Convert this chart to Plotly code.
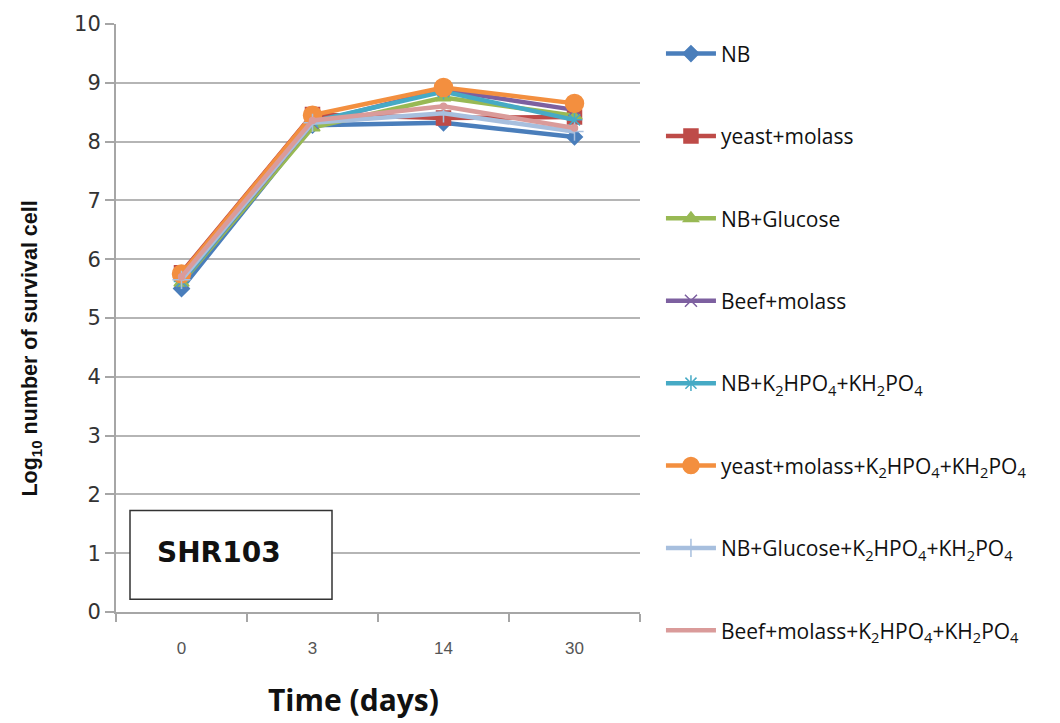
import plotly.graph_objects as go

days = ["0", "3", "14", "30"]
names = [
    "NB",
    "yeast+molass",
    "NB+Glucose",
    "Beef+molass",
    "NB+K<sub>2</sub>HPO<sub>4</sub>+KH<sub>2</sub>PO<sub>4</sub>",
    "yeast+molass+K<sub>2</sub>HPO<sub>4</sub>+KH<sub>2</sub>PO<sub>4</sub>",
    "NB+Glucose+K<sub>2</sub>HPO<sub>4</sub>+KH<sub>2</sub>PO<sub>4</sub>",
    "Beef+molass+K<sub>2</sub>HPO<sub>4</sub>+KH<sub>2</sub>PO<sub>4</sub>",
]
nb = [5.50, 8.28, 8.32, 8.08]
yeast_molass = [5.77, 8.46, 8.40, 8.42]
nb_glucose = [5.60, 8.24, 8.75, 8.44]
beef_molass = [5.62, 8.32, 8.88, 8.54]
nb_k = [5.62, 8.34, 8.85, 8.37]
yeast_molass_k = [5.75, 8.45, 8.92, 8.65]
nb_glucose_k = [5.65, 8.32, 8.48, 8.17]
beef_molass_k = [5.70, 8.36, 8.60, 8.23]
series = [nb, yeast_molass, nb_glucose, beef_molass, nb_k, yeast_molass_k, nb_glucose_k, beef_molass_k]

colors = ["#4A7EBB", "#BE4B48", "#98B954", "#7D60A0", "#46AAC5", "#F38F3F", "#A7BFDE", "#DA9B9A"]
symbols = ["diamond", "square", "triangle-up", "x-thin", "asterisk", "circle", "cross-thin", "circle"]
sizes = [12, 14, 13, 12, 13, 18, 13, 0]

fig = go.Figure()
for i, (n, s) in enumerate(zip(names, series)):
    fig.add_trace(go.Scatter(
        x=days, y=s, name=n, mode="lines+markers",
        legendgroup=f"g{i}",
        line=dict(color=colors[i], width=4.5),
        marker=dict(symbol=symbols[i], size=sizes[i], color=colors[i],
                    line=dict(color=colors[i], width=1.5)),
    ))

fig.add_shape(type="rect", xref="paper", yref="paper",
              x0=(130 - 116) / 524, x1=(332 - 116) / 524,
              y0=(612 - 599) / 596, y1=(612 - 509) / 596,
              line=dict(color="#333333", width=1.5), fillcolor="white")
fig.add_annotation(text="<b>SHR103</b>", xref="paper", yref="paper",
                   x=(219 - 116) / 524, y=(612 - 552) / 596, showarrow=False,
                   xanchor="center", yanchor="middle",
                   font=dict(family="DejaVu Sans", size=28, color="#111111"))
fig.add_annotation(text="<b>Time (days)</b>", xref="paper", yref="paper",
                   x=(353 - 116) / 524, y=(612 - 701) / 596, showarrow=False,
                   xanchor="center", yanchor="middle",
                   font=dict(family="Open Sans", size=30, color="#111111"))
fig.add_annotation(text="<b>Log<sub>10</sub> number of survival cell</b>", xref="paper", yref="paper",
                   x=(32 - 116) / 524, y=(612 - 345) / 596, showarrow=False,
                   textangle=-90, xanchor="center", yanchor="middle",
                   font=dict(family="Liberation Sans", size=21.5, color="#111111"))

fig.update_layout(
    width=1060, height=723,
    margin=dict(l=116, r=420, t=16, b=111),
    plot_bgcolor="white", paper_bgcolor="white",
    showlegend=True,
    legend=dict(x=1.04, y=0.984, xanchor="left", yanchor="top",
                traceorder="grouped", tracegroupgap=52.1, itemwidth=50,
                maxheight=720,
                font=dict(family="Open Sans", size=21, color="#111111")),
    xaxis=dict(type="category", range=[-0.5, 3.5], showgrid=False,
               showline=True, linecolor="#A6A6A6", linewidth=2,
               ticks="outside", tickson="boundaries", ticklen=8, tickcolor="#A6A6A6",
               tickwidth=2, ticklabelstandoff=20,
               tickfont=dict(family="Liberation Sans", size=17, color="#555555")),
    yaxis=dict(range=[0, 10], dtick=1, showgrid=True, gridcolor="#B5B5B5", gridwidth=2,
               showline=True, linecolor="#A6A6A6", linewidth=2,
               ticks="outside", ticklen=9, tickcolor="#A6A6A6", tickwidth=2,
               zeroline=False,
               tickfont=dict(family="DejaVu Sans", size=21, color="#333333")),
)
fig.write_html("out.html")
